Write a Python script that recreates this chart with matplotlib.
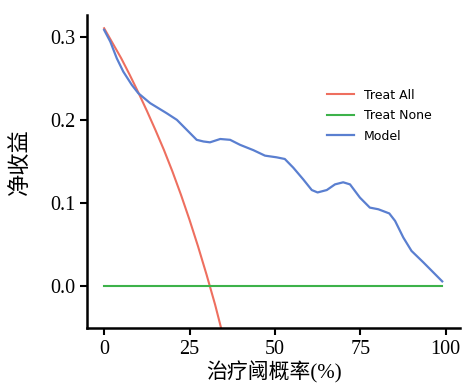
import matplotlib
matplotlib.use('Agg')
import matplotlib.pyplot as plt

# 阈值概率 (%)
thresholds_all = [0, 2.5, 5, 7.5, 10, 12.5, 15, 17.5, 20, 22.5, 25, 27.5, 30, 32.5, 35]
treat_all = [0.310, 0.292, 0.274, 0.254, 0.233, 0.211, 0.188, 0.164, 0.138, 0.110, 0.080,
             0.048, 0.014, -0.022, -0.062]

none_x = [0, 99]
treat_none = [0.0, 0.0]

model_x = [0, 1.8, 3.7, 5.6, 8.1, 10.0, 13.5, 18.3, 21.3, 24.2, 27.1, 29.1, 31, 34,
           36.9, 39.8, 43.7, 47.1, 50.5, 52.9, 55.4, 58.3, 60.8, 62.5, 65.2, 67.6, 70,
           72, 74.9, 77.8, 80.3, 83.5, 85.2, 87.6, 90, 93.5, 99]
model = [0.308, 0.294, 0.274, 0.258, 0.242, 0.232, 0.220, 0.208, 0.200, 0.188, 0.176,
         0.174, 0.173, 0.177, 0.176, 0.170, 0.1636, 0.157, 0.155, 0.153, 0.1425, 0.1285,
         0.1157, 0.1128, 0.1157, 0.1225, 0.125, 0.1225, 0.1066, 0.0946, 0.0926, 0.0876,
         0.0786, 0.0587, 0.0426, 0.0287, 0.006]

serif_cjk = ['Liberation Serif', 'Noto Sans CJK SC']

fig = plt.figure(figsize=(4.63, 3.83), dpi=100)
ax = fig.add_axes([0.188, 0.1436, 0.8055, 0.8174])

ax.plot(thresholds_all, treat_all, color='#ee6f5f', lw=1.5, label='Treat All')
ax.plot(none_x, treat_none, color='#3db24a', lw=1.5, label='Treat None')
ax.plot(model_x, model, color='#5a7fd0', lw=1.6, label='Model',
        solid_joinstyle='round')

ax.set_xlim(-5, 104.2)
ax.set_ylim(-0.05, 0.326)
ax.set_xticks([0, 25, 50, 75, 100])
ax.set_yticks([0.0, 0.1, 0.2, 0.3])
ax.set_yticklabels(['0.0', '0.1', '0.2', '0.3'])

for s in ['top', 'right']:
    ax.spines[s].set_visible(False)
for s in ['left', 'bottom']:
    ax.spines[s].set_linewidth(1.8)
ax.tick_params(width=1.5, length=5, labelsize=14.5)
for lab in ax.get_xticklabels() + ax.get_yticklabels():
    lab.set_family(serif_cjk)

ax.set_xlabel('治疗阈概率(%)', family=serif_cjk, fontsize=15, labelpad=2)
ax.set_ylabel('净收益', family=serif_cjk, fontsize=16)
ax.yaxis.set_label_coords(-0.15, 0.53)

ax.legend(loc='upper right', bbox_to_anchor=(0.955, 0.8), frameon=False, fontsize=9,
          handlelength=2.2, labelspacing=0.6)

fig.savefig('out.png', dpi=100)
